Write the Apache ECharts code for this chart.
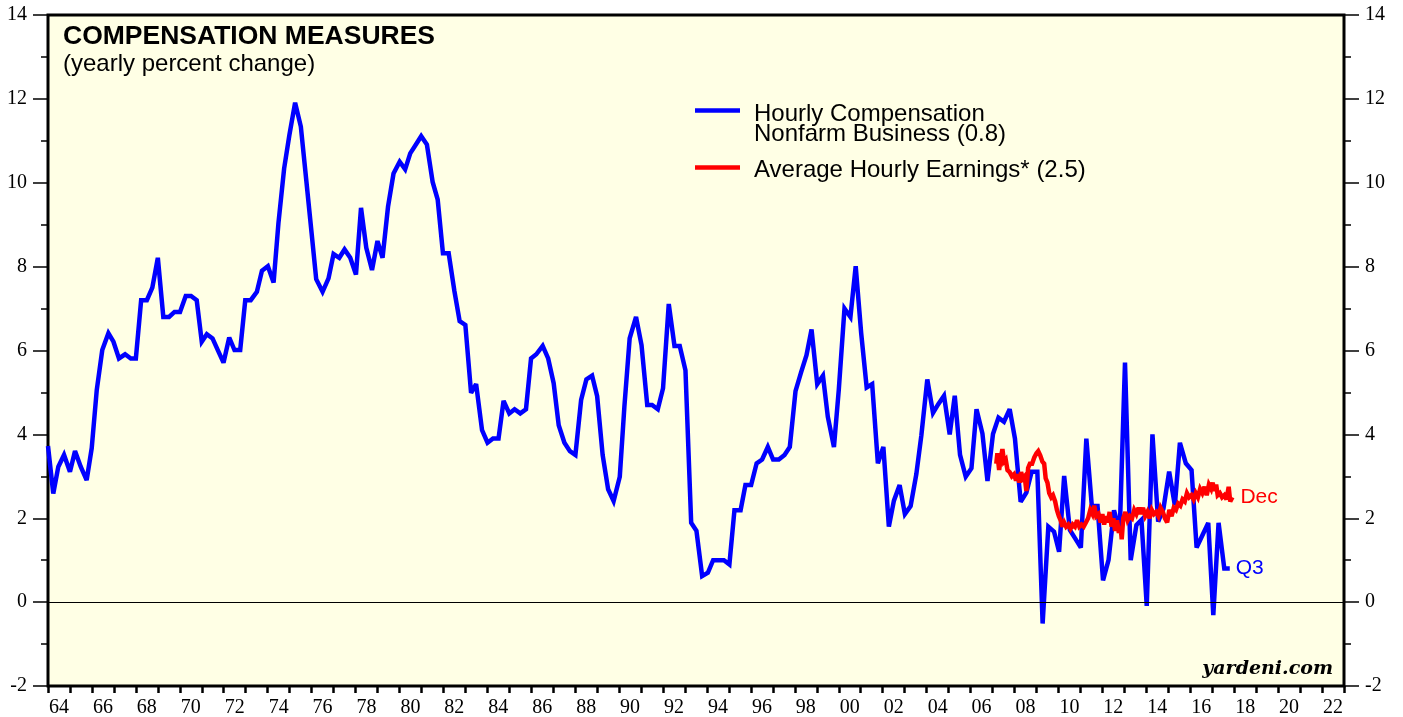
<!DOCTYPE html>
<html>
	<head>
		<meta charset="utf-8">
		<title>Compensation Measures</title>
		<script src="https://cdn.jsdelivr.net/npm/echarts@6/dist/echarts.min.js"></script>
		<style type="text/css">
			html, body{
				margin: 0;
				padding: 0;
				background: #fff;
			}
			#chart{
				width: 1403px;
				height: 717px;
			}
		</style>
	</head>
	<body>
		<div id="chart"></div>
		<script>
			// x axis categories (one per year, labels every other year)
			var yearLabels = ['64','65','66','67','68','69','70','71','72','73','74','75','76','77','78','79',
				'80','81','82','83','84','85','86','87','88','89','90','91','92','93','94','95','96','97','98','99',
				'00','01','02','03','04','05','06','07','08','09','10','11','12','13','14','15','16','17','18','19',
				'20','21','22'];
			var yMin = -2, yMax = 14, yStep = 2;

			// Hourly Compensation, Nonfarm Business (quarterly, yearly % change)
			var hourlyDates = [
				1964.00, 1964.24, 1964.47, 1964.73, 1965.00, 1965.23, 1965.49, 1965.76, 1965.99, 1966.22,
				1966.47, 1966.75, 1966.98, 1967.23, 1967.51, 1967.77, 1968.00, 1968.24, 1968.50, 1968.75,
				1969.00, 1969.25, 1969.51, 1969.76, 1970.01, 1970.27, 1970.51, 1970.77, 1971.00, 1971.23,
				1971.49, 1971.73, 1971.99, 1972.25, 1972.49, 1972.75, 1972.98, 1973.23, 1973.51, 1973.74,
				1974.01, 1974.27, 1974.49, 1974.75, 1974.99, 1975.25, 1975.51, 1975.75, 1976.00, 1976.21,
				1976.50, 1976.77, 1977.00, 1977.26, 1977.50, 1977.76, 1978.02, 1978.25, 1978.49, 1978.75,
				1979.00, 1979.23, 1979.48, 1979.73, 1980.01, 1980.26, 1980.49, 1980.75, 1980.99, 1981.25,
				1981.51, 1981.74, 1981.98, 1982.24, 1982.50, 1982.74, 1983.00, 1983.26, 1983.49, 1983.76,
				1984.01, 1984.26, 1984.51, 1984.74, 1985.00, 1985.24, 1985.50, 1985.76, 1985.99, 1986.23,
				1986.52, 1986.77, 1987.02, 1987.25, 1987.51, 1987.76, 1988.01, 1988.27, 1988.51, 1988.77,
				1989.00, 1989.25, 1989.50, 1989.75, 1990.03, 1990.24, 1990.48, 1990.77, 1991.02, 1991.28,
				1991.50, 1991.76, 1992.00, 1992.26, 1992.52, 1992.76, 1993.02, 1993.28, 1993.52, 1993.78,
				1994.04, 1994.28, 1994.54, 1994.77, 1995.02, 1995.25, 1995.53, 1995.75, 1996.01, 1996.26,
				1996.51, 1996.77, 1997.01, 1997.27, 1997.53, 1997.77, 1998.03, 1998.29, 1998.53, 1998.76,
				1999.02, 1999.28, 1999.50, 1999.78, 2000.00, 2000.26, 2000.53, 2000.77, 2001.02, 2001.27,
				2001.52, 2001.78, 2002.03, 2002.28, 2002.51, 2002.77, 2003.01, 2003.27, 2003.53, 2003.76,
				2004.03, 2004.29, 2004.53, 2004.79, 2005.05, 2005.28, 2005.52, 2005.78, 2006.04, 2006.27,
				2006.54, 2006.77, 2007.02, 2007.27, 2007.52, 2007.78, 2008.02, 2008.28, 2008.54, 2008.78,
				2009.04, 2009.28, 2009.54, 2009.80, 2010.03, 2010.26, 2010.52, 2010.76, 2011.02, 2011.27,
				2011.52, 2011.78, 2012.03, 2012.28, 2012.53, 2012.79, 2013.03, 2013.29, 2013.55, 2013.78,
				2014.02, 2014.28, 2014.54, 2014.78, 2015.04, 2015.30, 2015.53, 2015.80, 2016.06, 2016.29,
				2016.56, 2016.82, 2017.05, 2017.29, 2017.55, 2017.80
			];
			var hourlyValues = [
				3.72, 2.59, 3.23, 3.51, 3.11, 3.60, 3.23, 2.91, 3.67, 5.06,
				6.01, 6.41, 6.21, 5.81, 5.91, 5.81, 5.81, 7.20, 7.20, 7.50,
				8.21, 6.80, 6.80, 6.92, 6.92, 7.30, 7.30, 7.20, 6.21, 6.39,
				6.29, 6.01, 5.71, 6.31, 6.01, 6.01, 7.20, 7.20, 7.40, 7.90,
				8.01, 7.62, 9.03, 10.34, 11.14, 11.91, 11.34, 10.10, 8.80, 7.70,
				7.40, 7.72, 8.30, 8.21, 8.41, 8.21, 7.81, 9.40, 8.45, 7.92,
				8.61, 8.21, 9.43, 10.22, 10.50, 10.32, 10.70, 10.91, 11.11, 10.91,
				10.02, 9.60, 8.32, 8.32, 7.42, 6.70, 6.61, 4.99, 5.20, 4.10,
				3.80, 3.90, 3.90, 4.80, 4.50, 4.60, 4.50, 4.60, 5.81, 5.91,
				6.11, 5.81, 5.22, 4.22, 3.80, 3.60, 3.51, 4.82, 5.31, 5.40,
				4.91, 3.51, 2.69, 2.41, 2.99, 4.66, 6.29, 6.80, 6.13, 4.70,
				4.70, 4.60, 5.10, 7.11, 6.11, 6.11, 5.53, 1.89, 1.70, 0.62,
				0.70, 1.00, 1.00, 1.00, 0.90, 2.19, 2.19, 2.79, 2.79, 3.31,
				3.40, 3.70, 3.40, 3.40, 3.51, 3.70, 5.03, 5.49, 5.89, 6.50,
				5.20, 5.40, 4.42, 3.70, 5.06, 7.00, 6.80, 8.01, 6.41, 5.12,
				5.20, 3.31, 3.70, 1.80, 2.42, 2.79, 2.10, 2.29, 3.05, 3.98,
				5.31, 4.51, 4.72, 4.92, 4.00, 4.92, 3.51, 2.99, 3.19, 4.60,
				4.02, 2.89, 4.01, 4.40, 4.30, 4.60, 3.90, 2.39, 2.61, 3.11,
				3.11, -0.51, 1.80, 1.68, 1.20, 3.01, 1.72, 1.52, 1.30, 3.90,
				2.29, 2.29, 0.52, 1.00, 2.19, 1.68, 5.71, 1.00, 1.84, 1.96,
				-0.09, 4.00, 1.92, 2.23, 3.11, 2.31, 3.80, 3.31, 3.15, 1.30,
				1.60, 1.89, -0.31, 1.89, 0.80, 0.80
			];

			// Average Hourly Earnings (monthly, yearly % change)
			var earningsDates = [
				2007.17, 2007.22, 2007.30, 2007.38, 2007.45, 2007.52, 2007.60, 2007.68, 2007.78, 2007.88,
				2007.98, 2008.07, 2008.15, 2008.22, 2008.30, 2008.38, 2008.46, 2008.54, 2008.62, 2008.70,
				2008.80, 2008.90, 2009.00, 2009.08, 2009.17, 2009.27, 2009.35, 2009.42, 2009.50, 2009.58,
				2009.67, 2009.75, 2009.85, 2009.93, 2010.02, 2010.10, 2010.18, 2010.26, 2010.35, 2010.45,
				2010.55, 2010.65, 2010.75, 2010.85, 2010.95, 2011.05, 2011.15, 2011.25, 2011.35, 2011.45,
				2011.55, 2011.63, 2011.72, 2011.82, 2011.92, 2012.00, 2012.08, 2012.17, 2012.25, 2012.33,
				2012.42, 2012.50, 2012.58, 2012.67, 2012.75, 2012.83, 2012.88, 2012.95, 2013.05, 2013.15,
				2013.25, 2013.35, 2013.45, 2013.55, 2013.65, 2013.75, 2013.85, 2013.95, 2014.05, 2014.15,
				2014.25, 2014.35, 2014.45, 2014.55, 2014.65, 2014.75, 2014.85, 2014.95, 2015.05, 2015.15,
				2015.25, 2015.35, 2015.45, 2015.55, 2015.65, 2015.75, 2015.85, 2015.95, 2016.05, 2016.15,
				2016.25, 2016.35, 2016.45, 2016.55, 2016.65, 2016.75, 2016.85, 2016.95, 2017.02, 2017.10,
				2017.18, 2017.25, 2017.35, 2017.45, 2017.55, 2017.65, 2017.75, 2017.82, 2017.92
			];
			var earningsValues = [
				3.30, 3.55, 3.15, 3.45, 3.65, 3.35, 3.40, 3.15, 3.10, 3.00,
				3.05, 2.90, 3.05, 2.85, 3.10, 2.95, 3.00, 2.65, 3.20, 3.30,
				3.30, 3.45, 3.55, 3.60, 3.50, 3.35, 3.30, 2.95, 2.85, 2.60,
				2.50, 2.55, 2.40, 2.20, 2.05, 1.95, 1.80, 1.90, 1.80, 1.85,
				1.75, 1.85, 1.80, 1.95, 1.80, 1.85, 1.80, 1.90, 2.00, 2.20,
				2.10, 2.30, 2.05, 2.10, 1.90, 2.10, 1.85, 2.05, 1.90, 2.15,
				1.80, 2.00, 1.70, 1.95, 1.65, 1.80, 1.50, 2.00, 2.15, 1.95,
				2.05, 2.00, 2.20, 2.10, 2.25, 2.10, 2.25, 2.05, 2.15, 2.00,
				2.20, 2.10, 2.15, 2.05, 2.25, 2.15, 2.00, 1.90, 2.20, 2.05,
				2.25, 2.20, 2.35, 2.30, 2.45, 2.40, 2.60, 2.50, 2.55, 2.45,
				2.60, 2.50, 2.70, 2.60, 2.75, 2.55, 2.80, 2.70, 2.85, 2.65,
				2.80, 2.55, 2.60, 2.50, 2.55, 2.45, 2.75, 2.40, 2.50
			];

			function zip(xs, ys){
				var out = [];
				for(var i = 0; i < xs.length; i++){
					out.push([xs[i], ys[i]]);
				}
				return out;
			}

			var serifFont = '"Liberation Serif", "Times New Roman", serif';
			var sansFont = '"Liberation Sans", Arial, sans-serif';

			var myChart = echarts.init(document.getElementById('chart'));

			var yAxisCommon = {
				type: 'value',
				min: yMin,
				max: yMax,
				interval: yStep,
				axisLine: { show: false, onZero: false },
				axisTick: { show: true, length: 15, lineStyle: { color: '#000', width: 1.5 } },
				minorTick: { show: true, splitNumber: 2, length: 7, lineStyle: { color: '#000', width: 1.5 } },
				splitLine: { show: false },
				axisLabel: { color: '#000', fontSize: 20, fontFamily: serifFont, margin: 21 }
			};

			var option = {
				animation: false,
				backgroundColor: '#fff',
				grid: {
					left: 48,
					right: 59,
					top: 15,
					bottom: 31,
					show: true,
					backgroundColor: '#FFFFE5',
					borderColor: '#000',
					borderWidth: 3,
					outerBoundsMode: 'none'
				},
				xAxis: [{
					type: 'category',
					data: yearLabels,
					boundaryGap: true,
					position: 'bottom',
					axisLine: { show: false, onZero: false },
					axisTick: { show: true, interval: 0, length: 7, lineStyle: { color: '#000', width: 2.5 } },
					axisLabel: { interval: 1, color: '#000', fontSize: 20, fontFamily: serifFont, margin: 12 },
					splitLine: { show: false }
				}, {
					type: 'value',
					min: 1964,
					max: 2023,
					show: false
				}],
				yAxis: [
					Object.assign({ position: 'left' }, yAxisCommon),
					Object.assign({ position: 'right' }, yAxisCommon)
				],
				graphic: [
					{ type: 'text', left: 63, top: 23, style: { text: 'COMPENSATION MEASURES', font: 'bold 26.5px ' + sansFont, fill: '#000' } },
					{ type: 'text', left: 63, top: 52, style: { text: '(yearly percent change)', font: '24px ' + sansFont, fill: '#000' } },
					{ type: 'line', shape: { x1: 695, y1: 110.5, x2: 740, y2: 110.5 }, style: { stroke: '#0000FF', lineWidth: 4.5 } },
					{ type: 'text', left: 754, top: 102, style: { text: 'Hourly Compensation', font: '24px ' + sansFont, fill: '#000' } },
					{ type: 'text', left: 754, top: 122, style: { text: 'Nonfarm Business (0.8)', font: '24px ' + sansFont, fill: '#000' } },
					{ type: 'line', shape: { x1: 695, y1: 167.5, x2: 740, y2: 167.5 }, style: { stroke: '#FF0000', lineWidth: 4.5 } },
					{ type: 'text', left: 754, top: 158, style: { text: 'Average Hourly Earnings* (2.5)', font: '24px ' + sansFont, fill: '#000' } },
					{ type: 'text', right: 70, top: 660, style: { text: 'yardeni.com', font: 'italic bold 19px "DejaVu Serif", serif', fill: '#000' } }
				],
				series: [{
					name: 'Hourly Compensation Nonfarm Business',
					type: 'line',
					xAxisIndex: 1,
					yAxisIndex: 0,
					showSymbol: false,
					symbol: 'none',
					data: zip(hourlyDates, hourlyValues),
					lineStyle: { color: '#0000FF', width: 4.5, join: 'miter', miterLimit: 3 },
					endLabel: { show: true, formatter: 'Q3', color: '#0000FF', fontSize: 21, fontFamily: sansFont, distance: 6 },
					markLine: {
						silent: true,
						symbol: ['none', 'none'],
						label: { show: false },
						lineStyle: { color: '#000', width: 1, type: 'solid' },
						data: [{ yAxis: 0 }]
					},
					z: 2
				}, {
					name: 'Average Hourly Earnings',
					type: 'line',
					xAxisIndex: 1,
					yAxisIndex: 0,
					showSymbol: false,
					symbol: 'none',
					data: zip(earningsDates, earningsValues),
					lineStyle: { color: '#FF0000', width: 4.5, join: 'miter', miterLimit: 3 },
					endLabel: { show: true, formatter: 'Dec', color: '#FF0000', fontSize: 21, fontFamily: sansFont, distance: 8 },
					z: 3
				}]
			};

			myChart.setOption(option);
		</script>
	</body>
</html>
